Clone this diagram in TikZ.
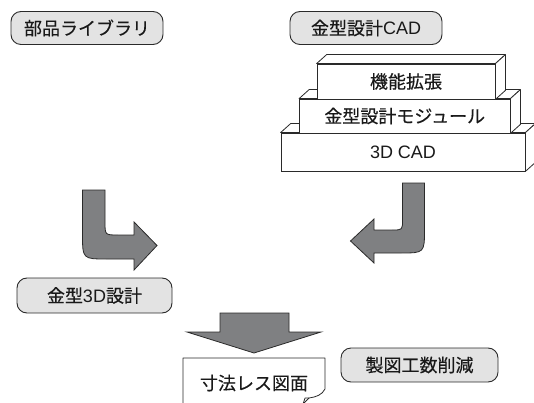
\documentclass[tikz,border=0pt]{standalone}
\usepackage{fontspec}
\setmainfont{Noto Sans CJK JP}[FakeBold=0.3]
\newfontfamily\lat{Liberation Sans}
\definecolor{boxfill}{HTML}{E3E3E3}
\definecolor{arrfill}{HTML}{7F8082}
\definecolor{edge}{HTML}{2A2A2A}
\begin{document}
\begin{tikzpicture}[x=1pt,y=-1pt,
  every node/.style={font=\fontsize{18}{20}\selectfont, text=black!90},
  label/.style={draw=edge, fill=boxfill, rounded corners=10pt, line width=0.9pt, inner sep=0pt, minimum height=33pt},
  front/.style={draw=edge, fill=white, line width=0.8pt, inner sep=0pt},
  side/.style={draw=edge, fill=white, line width=0.8pt, line join=round},
  blockarrow/.style={draw=edge, fill=arrfill, line width=0.8pt, line join=miter}]
\useasboundingbox (0,0) rectangle (534,403);

% rounded label boxes
\node[label, minimum width=152pt] (lib) at (87,28) {部品ライブラリ};
\node[label, minimum width=152pt] (cad) at (366,28) {金型設計{\lat CAD}};
\node[label, minimum width=155pt, minimum height=35pt] (design) at (94.5,295.5) {金型{\lat 3D}設計};
\node[label, minimum width=157pt, minimum height=34pt] (reduce) at (419.5,365) {製図工数削減};

% stacked 3D boxes (bottom first)
\def\dx{10}\def\dy{-9}
\node[front, minimum width=244pt, minimum height=38pt] (base) at (403,152) {{\lat 3D CAD}};
\draw[side] (base.north west) -- ++(\dx,\dy) -- ([shift={(\dx,\dy)}]base.north east) -- (base.north east) -- cycle;
\draw[side] (base.north east) -- ++(\dx,\dy) -- ([shift={(\dx,\dy)}]base.south east) -- (base.south east) -- cycle;

\node[front, minimum width=210.5pt, minimum height=34pt] (mold) at (404.75,116) {金型設計モジュール};
\draw[side] (mold.north west) -- ++(\dx,\dy) -- ([shift={(\dx,\dy)}]mold.north east) -- (mold.north east) -- cycle;
\draw[side] (mold.north east) -- ++(\dx,\dy) -- ([shift={(\dx,\dy)}]mold.south east) -- (mold.south east) -- cycle;

\node[front, minimum width=178pt, minimum height=35pt] (ext) at (406,81.5) {機能拡張};
\draw[side] (ext.north west) -- ++(\dx,\dy) -- ([shift={(\dx,\dy)}]ext.north east) -- (ext.north east) -- cycle;
\draw[side] (ext.north east) -- ++(\dx,\dy) -- ([shift={(\dx,\dy)}]ext.south east) -- (ext.south east) -- cycle;

% curved block arrows
\draw[blockarrow] (82.5,190) -- (105,190) -- (105,222)
  .. controls (105,235) .. (118,235) -- (134,235) -- (134,222) -- (157,245.5)
  -- (134,270) -- (134,259) -- (107,259)
  .. controls (82.5,259) .. (82.5,234) -- cycle;
\draw[blockarrow] (402.5,183) -- (424.5,183) -- (424.5,229)
  .. controls (424.5,253) .. (400.5,253) -- (374,253) -- (374,263) -- (350.5,241)
  -- (374,219) -- (374,230) -- (392,230)
  .. controls (402.5,230) .. (402.5,220) -- cycle;

% down arrow
\draw[blockarrow] (220,313) -- (289,313) -- (289,332) -- (321,332) -- (254,353)
  -- (187,332) -- (220,332) -- cycle;

% drawing sheet with curl
\draw[draw=edge, fill=white, line width=0.8pt, line join=round]
  (183,404) -- (183,358) -- (325,358) -- (325,389)
  .. controls (322,395) and (316,397) .. (309,398) -- (303,404);
\draw[draw=edge, line width=0.8pt, line join=round] (303,404) -- (305,398) -- (309,398);
\node (sheet) at (254,383) {寸法レス図面};
\end{tikzpicture}
\end{document}
